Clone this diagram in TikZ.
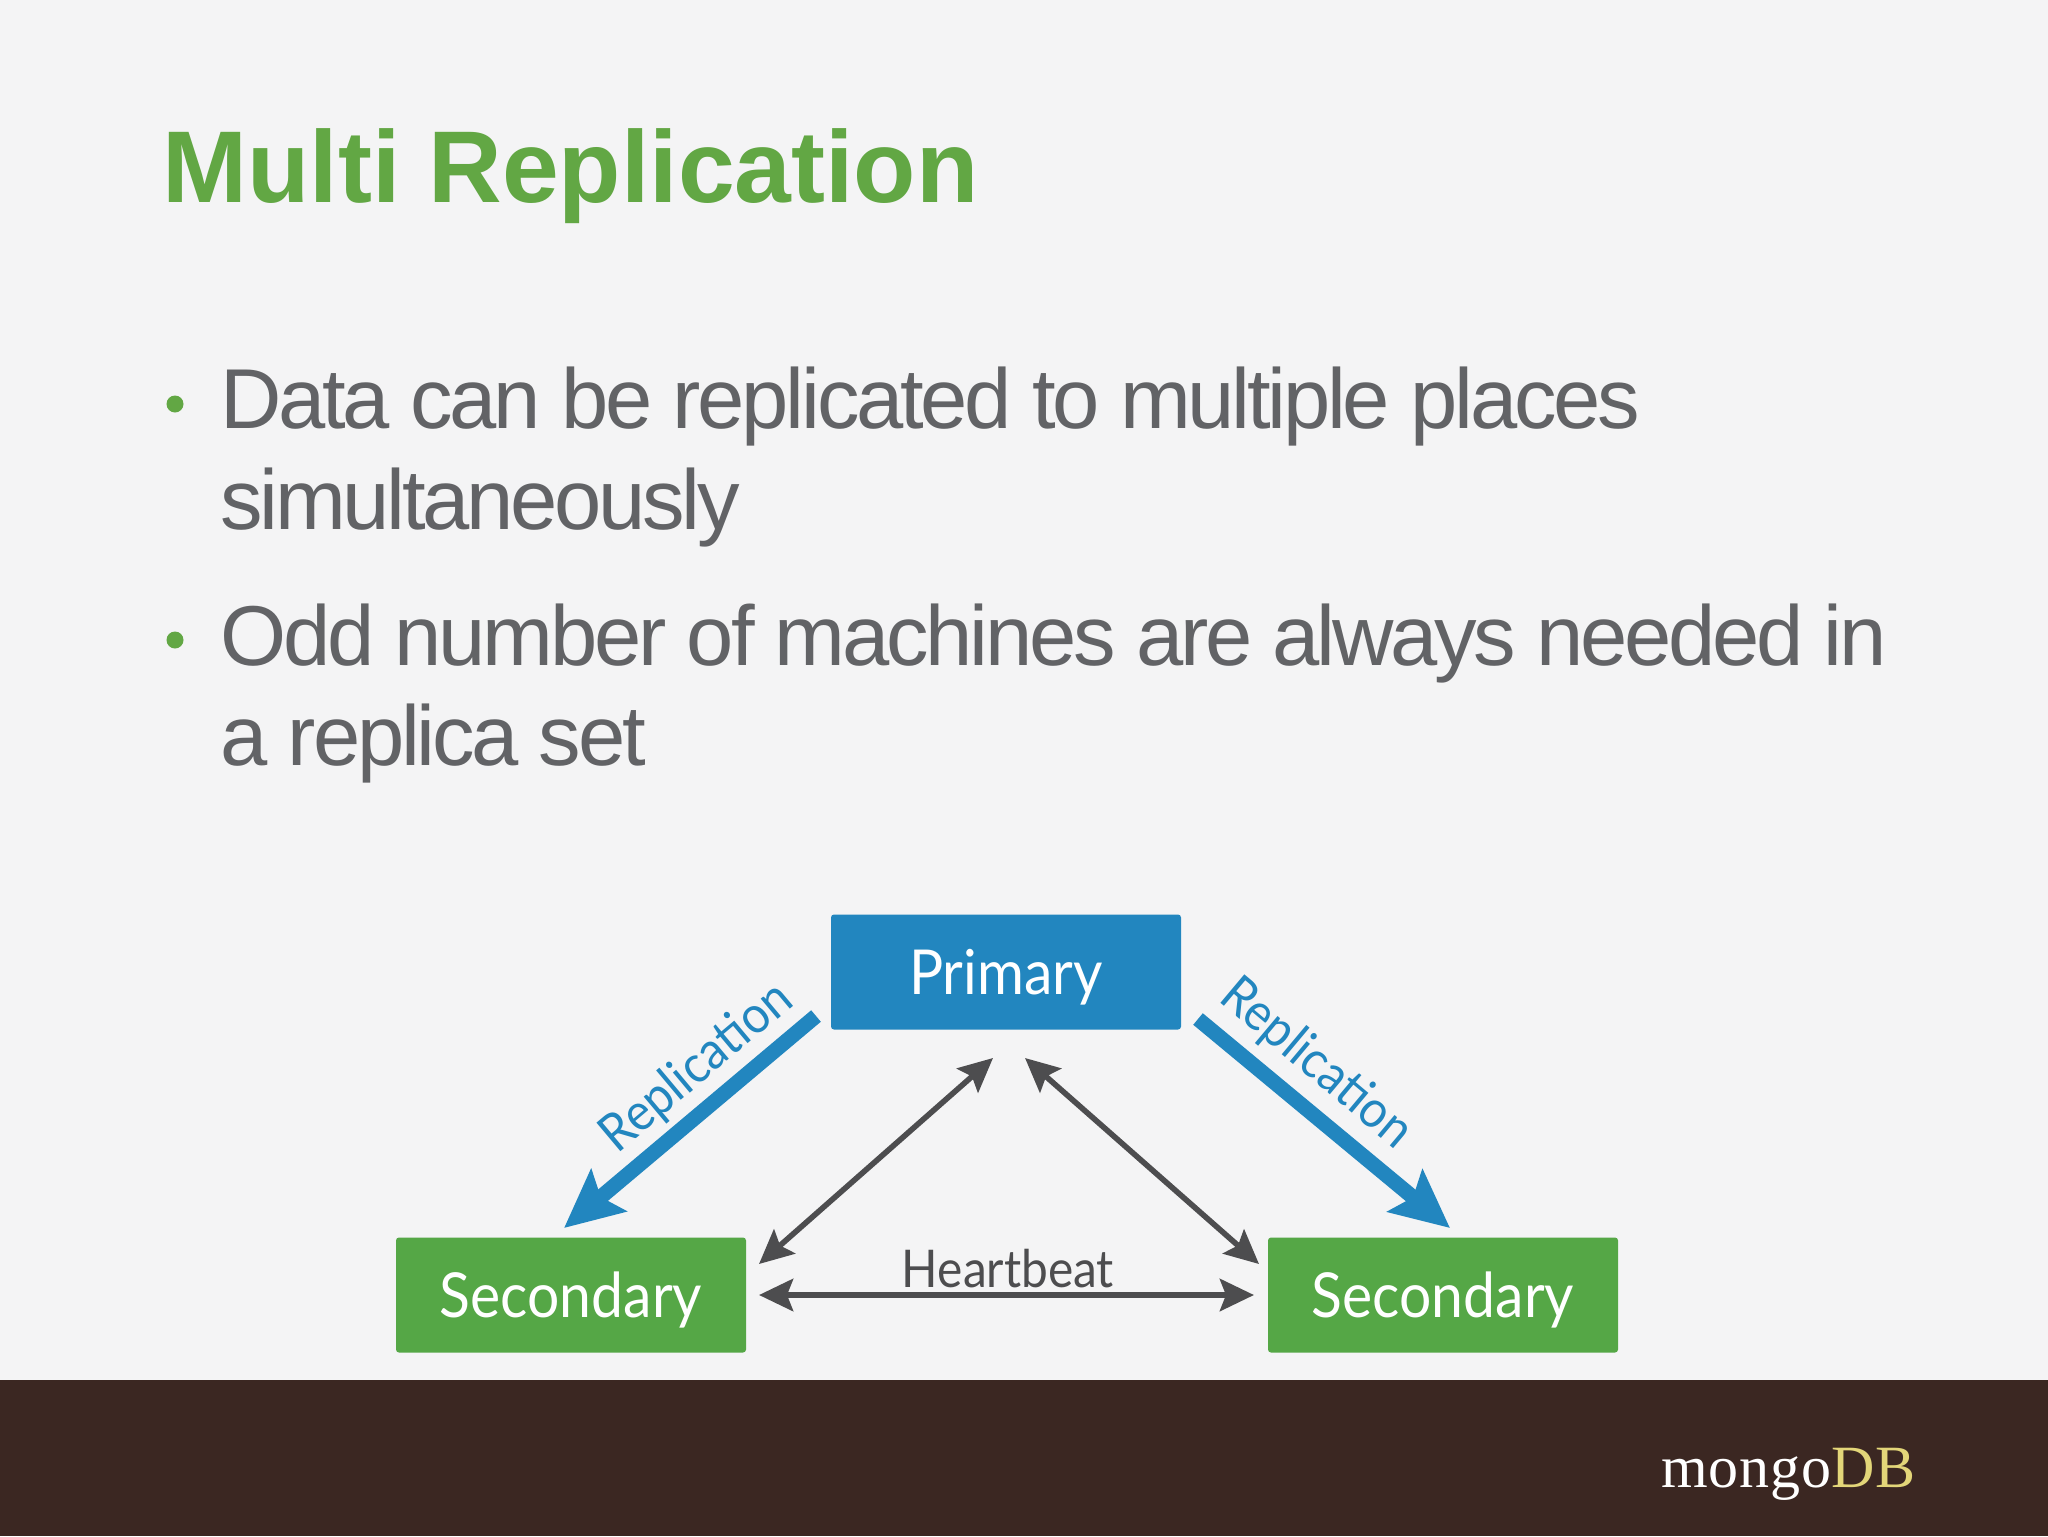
\documentclass[tikz,border=0pt]{standalone}
\usepackage{fontspec}
\usetikzlibrary{arrows.meta}
\setmainfont{Liberation Sans}
\newfontfamily\bodyfont[LetterSpace=-3.85]{Liberation Sans}
\newfontfamily\boxfont[FakeStretch=0.92]{Lato}
\newfontfamily\logofont[LetterSpace=1.5]{Liberation Serif}
\definecolor{bgc}{HTML}{F4F4F5}
\definecolor{titlec}{HTML}{62A744}
\definecolor{bodyc}{HTML}{626366}
\definecolor{footc}{HTML}{3B2722}
\definecolor{bluec}{HTML}{2286BF}
\definecolor{greenc}{HTML}{55A746}
\definecolor{darkc}{HTML}{4D4D4F}
\definecolor{dbc}{HTML}{E3D679}
\tikzset{
  x=0.5pt,y=-0.5pt,
  bodytext/.style={anchor=base west,inner sep=0,text=bodyc,font=\bodyfont\fontsize{42.5}{50}\selectfont},
  bulletdot/.style={circle,fill=titlec,inner sep=0,minimum size=8.5pt},
  rolebox/.style={rounded corners=1.5pt,minimum width=175pt,minimum height=57.5pt,inner sep=0,text=white,text height=22pt,text depth=0pt,font=\boxfont\fontsize{31}{34}\selectfont},
  repl/.style={draw=bluec,line width=7.5pt,-{Stealth[length=29pt,width=27pt,inset=5pt]}},
  beat/.style={draw=darkc,line width=2.8pt,{Stealth[length=17pt,width=16pt,inset=3pt]}-{Stealth[length=17pt,width=16pt,inset=3pt]}},
  repltext/.style={inner sep=0,text=bluec,font=\boxfont\fontsize{26}{28}\selectfont},
}
\begin{document}
\begin{tikzpicture}
\useasboundingbox (0,0) rectangle (2048,1536);
\fill[bgc] (0,0) rectangle (2048,1536);
\fill[footc] (0,1380) rectangle (2048,1536);

\node[anchor=base west,inner sep=0,text=titlec,font=\bfseries\fontsize{51}{60}\selectfont] (title) at (162,202) {Multi Replication};

\node[bulletdot] (b1) at (175,404) {};
\node[bodytext] (l1) at (220,428) {Data can be replicated to multiple places};
\node[bodytext] (l2) at (220,529) {simultaneously};
\node[bulletdot] (b2) at (175,640) {};
\node[bodytext] (l3) at (220,665) {Odd number of machines are always needed in};
\node[bodytext] (l4) at (220,765) {a replica set};

\node[rolebox,fill=bluec] (p) at (1006,972) {Primary};
\node[rolebox,fill=greenc] (s1) at (571,1295) {Secondary};
\node[rolebox,fill=greenc] (s2) at (1443,1295) {Secondary};

\coordinate (r1a) at (816,1016);
\coordinate (r1b) at (564,1228);
\coordinate (r2a) at (1198,1019);
\coordinate (r2b) at (1450,1228);
\draw[repl] (r1a) -- (r1b);
\draw[repl] (r2a) -- (r2b);

\coordinate (h1a) at (993,1058);
\coordinate (h1b) at (759,1264);
\coordinate (h2a) at (1025,1058);
\coordinate (h2b) at (1259,1264);
\coordinate (h3a) at (759,1295);
\coordinate (h3b) at (1254,1295);
\draw[beat] (h1a) -- (h1b);
\draw[beat] (h2a) -- (h2b);
\draw[beat,line width=3.2pt] (h3a) -- (h3b);

\node[repltext,rotate=40] (t1) at (697,1068) {Replication};
\node[repltext,rotate=-40] (t2) at (1316,1064) {Replication};
\node[anchor=base,inner sep=0,text=darkc,font=\boxfont\fontsize{26}{28}\selectfont] (t3) at (1008,1287) {Heartbeat};

\node[anchor=base west,inner sep=0,font=\logofont\fontsize{30}{32}\selectfont] (logo) at (1661,1487) {\textcolor{white}{mongo}\textcolor{dbc}{DB}};
\end{tikzpicture}
\end{document}
